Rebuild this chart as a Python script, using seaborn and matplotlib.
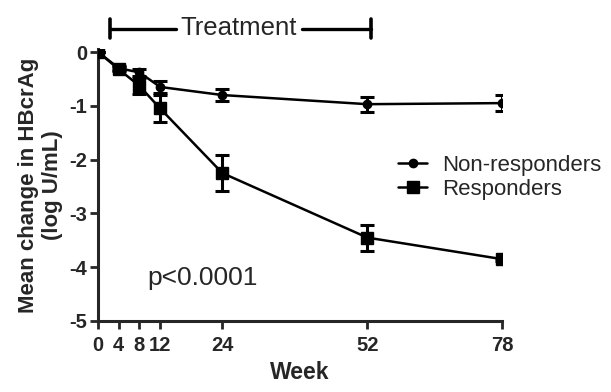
import pandas as pd
import matplotlib
matplotlib.use("Agg")
import matplotlib.pyplot as plt
import seaborn as sns
from matplotlib.lines import Line2D

# data
weeks = [0, 4, 8, 12, 24, 52, 78]
non_resp_mean = [0.0, -0.30, -0.38, -0.65, -0.80, -0.97, -0.95]
non_resp_err = [0.0, 0.04, 0.06, 0.12, 0.12, 0.14, 0.15]
resp_mean = [0.0, -0.32, -0.63, -1.05, -2.25, -3.45, -3.85]
resp_err = [0.0, 0.04, 0.15, 0.26, 0.34, 0.24, 0.03]
x_ticks = [0, 4, 8, 12, 24, 52, 78]
y_ticks = [0, -1, -2, -3, -4, -5]

df = pd.DataFrame({
    "Week": weeks * 2,
    "Change": non_resp_mean + resp_mean,
    "Err": non_resp_err + resp_err,
    "Group": ["Non-responders"] * len(weeks) + ["Responders"] * len(weeks),
})

sns.set_style("ticks")
plt.rcParams["font.family"] = ["Liberation Sans", "DejaVu Sans"]

fig = plt.figure(figsize=(6.11, 3.92), dpi=100)
ax = fig.add_axes([98 / 611, 1 - 321 / 392, (502 - 98) / 611, (321 - 52) / 392 * 1.01])

sns.lineplot(
    data=df, x="Week", y="Change", hue="Group", style="Group",
    markers={"Non-responders": "o", "Responders": "s"}, dashes=False,
    palette={"Non-responders": "black", "Responders": "black"},
    markersize=0, linewidth=1.8, ax=ax, legend=False,
)

for grp, mk, ms in [("Non-responders", "o", 6), ("Responders", "s", 9)]:
    sub = df[df["Group"] == grp]
    ax.errorbar(sub["Week"], sub["Change"], yerr=sub["Err"], fmt=mk, ms=ms,
                color="black", ecolor="black", elinewidth=2.2, capsize=5,
                capthick=2.2, zorder=3)

ax.set_xlim(0, 78)
ax.set_ylim(-5, 0.05)
ax.set_xticks(x_ticks)
ax.set_yticks(y_ticks)
ax.set_xticklabels([str(t) for t in x_ticks], fontsize=14.5, fontweight="bold")
ax.set_yticklabels([str(t) for t in y_ticks], fontsize=14.5, fontweight="bold")
ax.tick_params(axis="x", width=2, length=6, pad=5)
ax.tick_params(axis="y", width=2, length=6, pad=2)
for s in ["left", "bottom"]:
    ax.spines[s].set_linewidth(2.2)
sns.despine(ax=ax)
ax.spines["left"].set_bounds(-5, 0.05)

ax.set_xlabel("Week", fontsize=16.5, fontweight="bold", labelpad=4)
ax.set_ylabel("Mean change in HBcrAg\n(log U/mL)", fontsize=16,
              fontweight="bold", labelpad=4)

# treatment bar
tr = ax.get_xaxis_transform()
ax.plot([2.3, 15.0], [1.075, 1.075], color="black", lw=2.4,
        transform=tr, clip_on=False)
ax.plot([39.4, 52.8], [1.075, 1.075], color="black", lw=2.4,
        transform=tr, clip_on=False)
ax.plot([2.3, 2.3], [1.04, 1.11], color="black", lw=2.6,
        transform=tr, clip_on=False)
ax.plot([52.8, 52.8], [1.04, 1.11], color="black", lw=2.6,
        transform=tr, clip_on=False)
ax.text(27.2, 1.08, "Treatment", fontsize=18.5, ha="center", va="center",
        transform=tr)

ax.text(9.6, -4.2, "p<0.0001", fontsize=19, ha="left", va="center")

handles = [
    Line2D([], [], color="black", marker="o", ms=6, lw=1.8),
    Line2D([], [], color="black", marker="s", ms=9, lw=1.8),
]
ax.legend(handles, ["Non-responders", "Responders"], frameon=False,
          fontsize=16, loc="upper left", bbox_to_anchor=(0.743, 0.612),
          handlelength=1.3, handletextpad=0.7, labelspacing=0.15,
          borderaxespad=0, borderpad=0)

fig.savefig("out.png", dpi=100)
